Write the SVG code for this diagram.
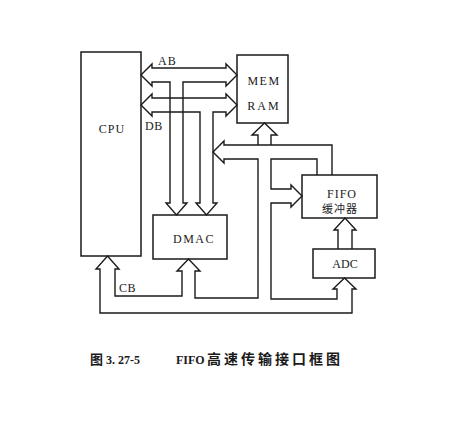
<svg xmlns="http://www.w3.org/2000/svg" width="451" height="426" viewBox="0 0 451 426">
<style>
.box{fill:none;stroke:#1a1a1a;stroke-width:1.5}
.bus{fill:none;stroke:#1a1a1a;stroke-width:1.4;stroke-linejoin:miter}
.t{font-family:"Liberation Serif","Noto Sans CJK SC",serif;fill:#1a1a1a;font-size:12px}
.c{text-anchor:middle}
.cjk{font-family:"Noto Sans CJK SC","Liberation Serif",sans-serif;fill:#1a1a1a}
</style>
<rect x="0" y="0" width="451" height="426" fill="#ffffff"/>
<g id="cpu">
<rect class="box" x="81" y="52" width="60" height="204"/>
<text class="t c" x="112" y="133" font-size="13" letter-spacing="1">CPU</text>
</g>
<g id="mem">
<rect class="box" x="237" y="55" width="51" height="68"/>
<text class="t c" x="264" y="85" letter-spacing="1.5">MEM</text>
<text class="t c" x="264" y="110" letter-spacing="2">RAM</text>
</g>
<g id="dmac">
<rect class="box" x="153" y="215" width="74" height="44"/>
<text class="t c" x="194" y="243" letter-spacing="1.5">DMAC</text>
</g>
<g id="fifo">
<rect class="box" x="302" y="175" width="75" height="43"/>
<text class="t c" x="342" y="198" letter-spacing="1">FIFO</text>
<text class="cjk c" x="340" y="213" font-size="11" letter-spacing="1">缓冲器</text>
</g>
<g id="adc">
<rect class="box" x="313" y="249" width="62" height="29"/>
<text class="t c" x="345" y="268" font-size="11.5">ADC</text>
</g>
<g id="connectors">
<path class="bus" d="M152,82 L152,86 L141,75 L152,64 L152,68 L226,68 L226,64 L237,75 L226,86 L226,82 L183,82 L183,203 L187,203 L176.5,215 L166,203 L170,203 L170,82 Z"/>
<path class="bus" d="M152,112 L152,116 L141,105 L152,94 L152,98 L226,98 L226,94 L237,105 L226,116 L226,112 L213,112 L213,203 L217,203 L206.5,215 L196,203 L200,203 L200,112 Z"/>
<path class="bus" d="M332,175 L332,145 L224,145 L224,141 L213,152 L224,163 L224,159 L258,159 L258,298 L195,298 L195,271 L200,271 L188.5,259 L177,271 L182,271 L182,296 L115,296 L115,269 L119,269 L107.5,256 L96,269 L100,269 L100,313 L352,313 L352,289 L356,289 L344.5,278 L333,289 L337,289 L337,299 L271,299 L271,203 L291,203 L291,207 L302,196 L291,185 L291,189 L271,189 L271,159 L317,159 L317,175"/>
<path class="bus" d="M258,145 L258,135 L252,135 L264.5,123 L277,135 L271,135 L271,145"/>
<path class="bus" d="M338,249 L338,230 L334,230 L345,218 L356,230 L352,230 L352,249"/>
<text class="t" x="158" y="65" letter-spacing="1">AB</text>
<text class="t" x="145" y="130" letter-spacing="0.5">DB</text>
<text class="t" x="119" y="292" letter-spacing="0.5">CB</text>
</g>
<g id="caption">
<text class="cjk" x="90" y="364" font-size="13" font-weight="bold">图</text>
<text class="t" x="106" y="364" font-size="13" font-weight="bold">3. 27-5</text>
<text class="t" x="176" y="364" font-size="13" font-weight="bold">FIFO</text>
<text class="cjk" x="207" y="364" font-size="14" font-weight="bold" textLength="133" lengthAdjust="spacing">高速传输接口框图</text>
</g>
</svg>
